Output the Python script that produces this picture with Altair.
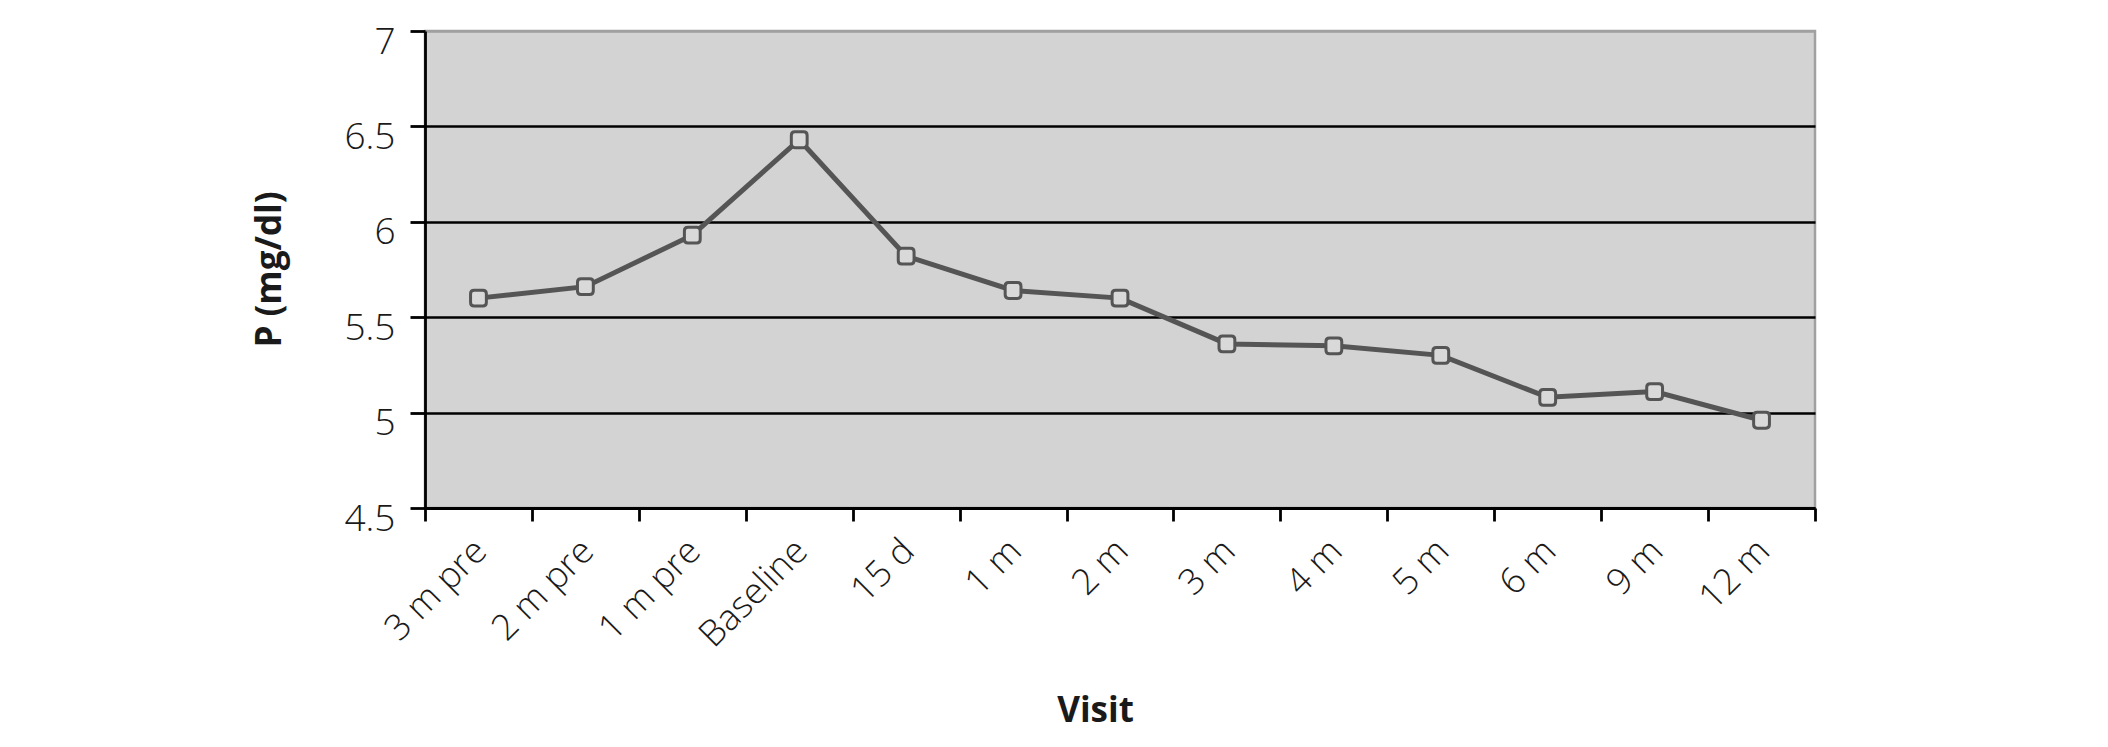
import altair as alt
import pandas as pd

categories = ["3 m pre", "2 m pre", "1 m pre", "Baseline", "15 d", "1 m", "2 m",
              "3 m", "4 m", "5 m", "6 m", "9 m", "12 m"]
values = [5.60, 5.66, 5.93, 6.43, 5.82, 5.64, 5.60, 5.36, 5.35, 5.30, 5.08, 5.11, 4.96]
y_ticks = [4.5, 5, 5.5, 6, 6.5, 7]

df = pd.DataFrame({"visit": categories, "p": values})

rounded_square = ("M -0.55 -1 L 0.55 -1 Q 1 -1 1 -0.55 L 1 0.55 Q 1 1 0.55 1 "
                  "L -0.55 1 Q -1 1 -1 0.55 L -1 -0.55 Q -1 -1 -0.55 -1 Z")

FONT = "Open Sans"

base = alt.Chart(df).encode(
    x=alt.X(
        "visit:N",
        sort=categories,
        scale=alt.Scale(type="band", paddingInner=0, paddingOuter=0),
        axis=alt.Axis(
            title="Visit",
            tickBand="extent",
            labelAngle=-45,
            labelAlign="right",
            labelBaseline="top",
            labelPadding=12,
            labelOffset=-10,
            labelFontSize=36,
            tickSize=13,
            grid=False,
            titleX=670,
            titleY=185,
            titleAnchor="start",
            titleAlign="center",
        ),
    ),
    y=alt.Y(
        "p:Q",
        scale=alt.Scale(domain=[4.5, 7], nice=False, zero=False),
        axis=alt.Axis(
            title="P (mg/dl)",
            values=y_ticks,
            format=".1~f",
            tickSize=15,
            labelPadding=15,
            labelOffset=11,
            labelFontSize=37,
            grid=True,
            gridColor={"condition": {"test": "datum.value >= 7", "value": "#a0a0a0"},
                       "value": "#000000"},
            gridWidth=2.7,
            titleX=-156,
            titleY=238,
            titleAngle=-90,
            titleAlign="center",
            titleBaseline="middle",
        ),
    ),
)

line = base.mark_line(color="#555555", strokeWidth=5)
pts = base.mark_point(
    shape=rounded_square,
    size=250,
    filled=True,
    fill="#d9d9d9",
    stroke="#555555",
    strokeWidth=3,
    opacity=1,
    fillOpacity=1,
    strokeOpacity=1,
)

chart = (
    alt.layer(line, pts)
    .properties(
        width=1390,
        height=477,
        autosize=alt.AutoSizeParams(type="none"),
        padding={"left": 417, "top": 23, "right": 270, "bottom": 225},
        background="white",
    )
    .configure_view(fill="#d3d3d3", stroke="#a0a0a0", strokeWidth=2.5)
    .configure_axis(
        domainColor="#000000",
        domainWidth=2.8,
        tickColor="#000000",
        tickWidth=2.8,
        labelFont=FONT,
        labelFontWeight=300,
        labelColor="#1a1a1a",
        titleFont=FONT,
        titleFontSize=35,
        titleFontWeight="bold",
        titleColor="#1a1a1a",
    )
)

chart.save("out.html", embed_options={"renderer": "svg", "actions": False})
